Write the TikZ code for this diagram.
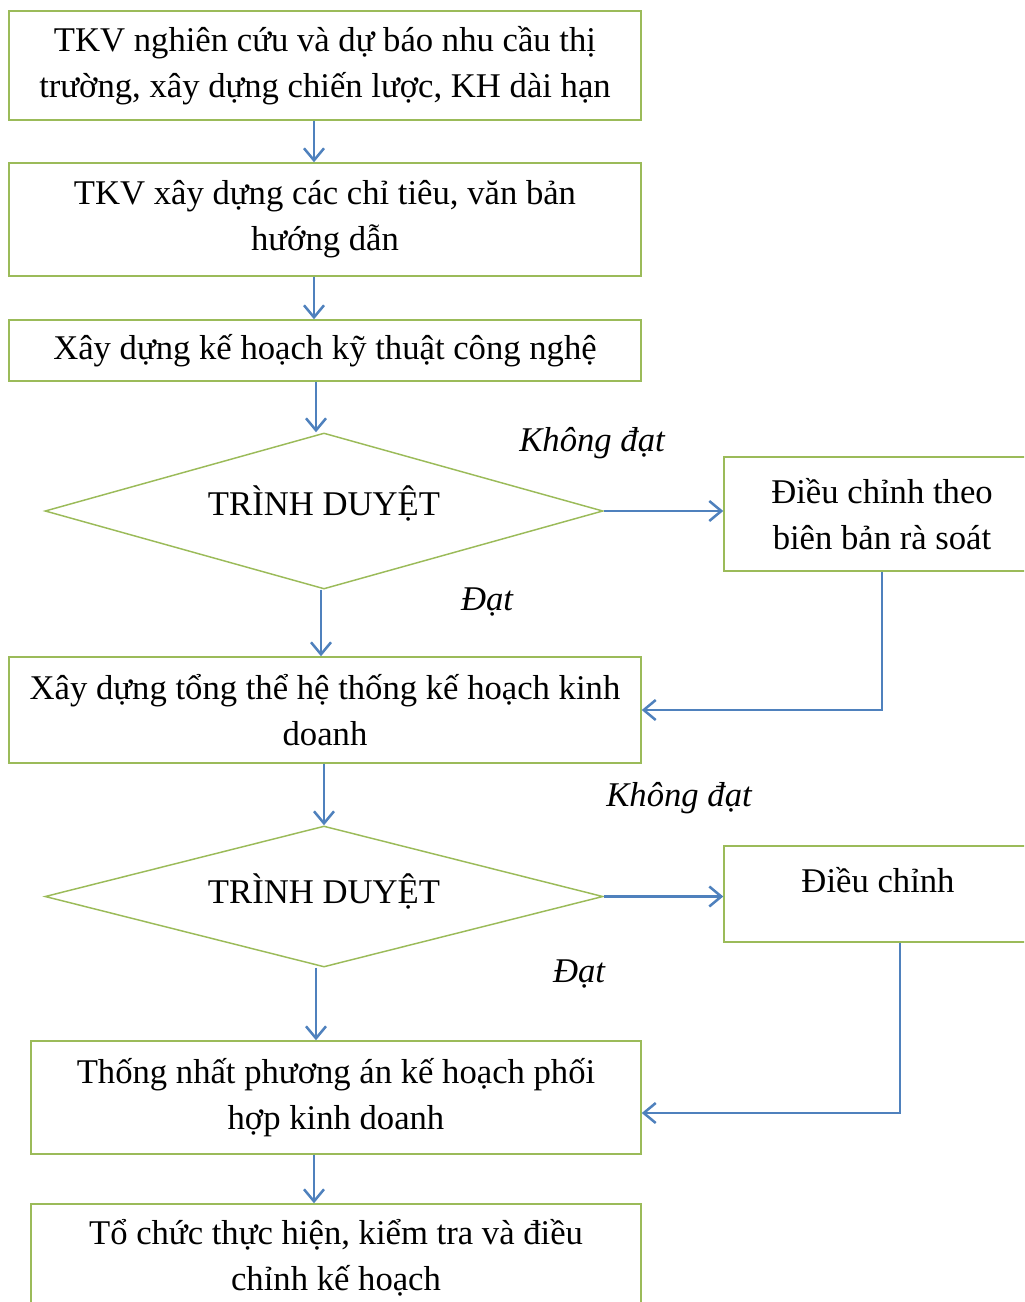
\documentclass[tikz,border=0pt]{standalone}
\usepackage{fontspec}
\setmainfont{Liberation Serif}
\usetikzlibrary{arrows.meta,shapes.geometric,calc}
\definecolor{boxgreen}{HTML}{9BBB59}
\definecolor{flowblue}{HTML}{4F81BD}
\begin{document}
\begin{tikzpicture}[x=0.75pt,y=-0.75pt,
  box/.style={draw=boxgreen,line width=1.1pt,rectangle,inner sep=0pt,align=center,
    font=\fontsize{26}{34.5}\selectfont},
  dia/.style={draw=boxgreen,line width=1.1pt,diamond,inner sep=0pt},
  txt/.style={inner sep=0pt,align=center,font=\fontsize{26}{34.5}\selectfont},
  lbl/.style={inner sep=0pt,font=\fontsize{26}{34.5}\selectfont\itshape},
  flow/.style={draw=flowblue,line width=1.9pt,-{Straight Barb[length=9pt,width=15pt]}}]
\useasboundingbox (0,0) rectangle (1024,1302);
\clip (0,0) rectangle (1024,1302);

% main column
\node[box,minimum width=474pt,minimum height=81.75pt] (b1) at (325,65.5)
  {TKV nghiên cứu và dự báo nhu cầu thị\\trường, xây dựng chiến lược, KH dài hạn};
\node[box,minimum width=474pt,minimum height=84.75pt] (b2) at (325,219.5)
  {TKV xây dựng các chỉ tiêu, văn bản\\hướng dẫn};
\node[box,minimum width=474pt,minimum height=45.75pt] (b3) at (325,350.5)
  {Xây dựng kế hoạch kỹ thuật công nghệ};
\node[dia,minimum width=418.5pt,minimum height=117pt] (d1) at (324,511) {};
\node[txt] (d1t) at (324,503) {TRÌNH DUYỆT};
\node[box,minimum width=474pt,minimum height=79.5pt] (b4) at (325,710)
  {Xây dựng tổng thể hệ thống kế hoạch kinh\\doanh};
\node[dia,minimum width=418.5pt,minimum height=105.75pt] (d2) at (324,896.5) {};
\node[txt] (d2t) at (324,891) {TRÌNH DUYỆT};
\node[box,minimum width=457.5pt,minimum height=84.75pt] (b5) at (336,1097.5)
  {Thống nhất phương án kế hoạch phối\\hợp kinh doanh};
\node[box,minimum width=457.5pt,minimum height=80.25pt] (b6) at (336,1257.5)
  {Tổ chức thực hiện, kiểm tra và điều\\chỉnh kế hoạch};

% side boxes
\node[box,minimum width=237pt,minimum height=85.5pt] (r1) at (882,514)
  {Điều chỉnh theo\\biên bản rà soát};
\node[box,minimum width=237pt,minimum height=72pt] (r2) at (882,894) {};
\node[txt] (r2t) at (878,880) {Điều chỉnh};

% branch labels
\node[lbl] (l1) at (592,443) {Không đạt};
\node[lbl] (l2) at (487,602) {Đạt};
\node[lbl] (l3) at (679,798) {Không đạt};
\node[lbl] (l4) at (579,974) {Đạt};

% connector columns
\coordinate (ca) at (314,0);
\coordinate (cb) at (316,0);
\coordinate (cc) at (321,0);
\coordinate (cd) at (324,0);
\coordinate (ce) at (900,1113);

\draw[flow] (b1.south -| ca) -- (b2.north -| ca);
\draw[flow] (b2.south -| ca) -- (b3.north -| ca);
\draw[flow] (b3.south -| cb) -- (d1.north -| cb);
\draw[flow] (d1.south -| cc) -- (b4.north -| cc);
\draw[flow] (d1.east) -- (d1.east -| r1.west);
\draw[flow] (r1.south) |- (b4.east);
\draw[flow] (b4.south -| cd) -- (d2.north -| cd);
\draw[flow] (d2.east) -- (d2.east -| r2.west);
\draw[flow] (r2.south -| ce) |- (b5.east |- ce);
\draw[flow] (d2.south -| cb) -- (b5.north -| cb);
\draw[flow] (b5.south -| ca) -- (b6.north -| ca);
\end{tikzpicture}
\end{document}
